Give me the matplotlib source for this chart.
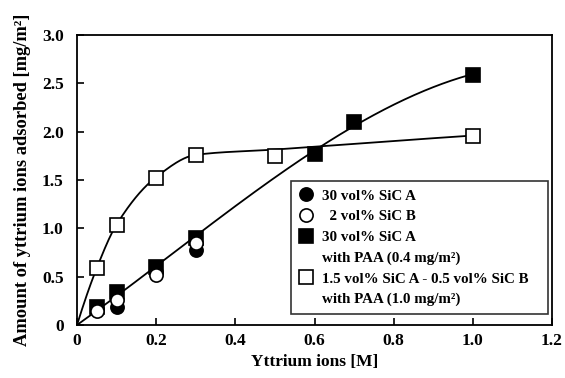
import numpy as np
import matplotlib
matplotlib.use("Agg")
import matplotlib.pyplot as plt
from matplotlib.lines import Line2D

# Data
x_fc = [0.05, 0.1, 0.2, 0.3]
y_fc = [0.17, 0.19, 0.55, 0.78]          # 30 vol% SiC A
x_oc = [0.05, 0.1, 0.2, 0.3]
y_oc = [0.14, 0.26, 0.52, 0.85]          # 2 vol% SiC B
x_fs = [0.05, 0.1, 0.2, 0.3, 0.6, 0.7, 1.0]
y_fs = [0.19, 0.34, 0.60, 0.90, 1.77, 2.10, 2.59]   # 30 vol% SiC A with PAA
x_os = [0.05, 0.1, 0.2, 0.3, 0.5, 1.0]
y_os = [0.59, 1.03, 1.52, 1.76, 1.75, 1.96]         # 1.5A-0.5B with PAA

x_os_curve = [0.0, 0.05, 0.1, 0.2, 0.3, 0.5, 0.7, 1.0]
y_os_curve = [0.0, 0.59, 1.04, 1.53, 1.76, 1.815, 1.875, 1.96]

labels = ["30 vol% SiC A", "  2 vol% SiC B",
          "30 vol% SiC A", "with PAA (0.4 mg/m²)",
          "1.5 vol% SiC A - 0.5 vol% SiC B   ", "with PAA (1.0 mg/m²)"]
xticks = [0, 0.2, 0.4, 0.6, 0.8, 1.0, 1.2]
xticklabels = ["0", "0.2", "0.4", "0.6", "0.8", "1.0", "1.2"]
yticks = [0, 0.5, 1.0, 1.5, 2.0, 2.5, 3.0]
yticklabels = ["0", "0.5", "1.0", "1.5", "2.0", "2.5", "3.0"]

plt.rcParams['font.family'] = ['Liberation Serif', 'DejaVu Serif']
plt.rcParams['font.weight'] = 'bold'


def pchip(xk, yk, xq):
    xk = np.asarray(xk, float); yk = np.asarray(yk, float)
    h = np.diff(xk); d = np.diff(yk) / h
    n = len(xk)
    m = np.zeros(n)
    for k in range(1, n - 1):
        if d[k-1] * d[k] > 0:
            w1 = 2*h[k] + h[k-1]; w2 = h[k] + 2*h[k-1]
            m[k] = (w1 + w2) / (w1/d[k-1] + w2/d[k])
    m[0] = ((2*h[0] + h[1])*d[0] - h[0]*d[1]) / (h[0] + h[1])
    if np.sign(m[0]) != np.sign(d[0]):
        m[0] = 0
    m[-1] = ((2*h[-1] + h[-2])*d[-1] - h[-1]*d[-2]) / (h[-1] + h[-2])
    if np.sign(m[-1]) != np.sign(d[-1]):
        m[-1] = 0
    idx = np.clip(np.searchsorted(xk, xq) - 1, 0, n - 2)
    t = (xq - xk[idx]) / h[idx]
    h00 = 2*t**3 - 3*t**2 + 1; h10 = t**3 - 2*t**2 + t
    h01 = -2*t**3 + 3*t**2; h11 = t**3 - t**2
    return h00*yk[idx] + h10*h[idx]*m[idx] + h01*yk[idx+1] + h11*h[idx]*m[idx+1]


fig = plt.figure(figsize=(5.65, 3.78), dpi=100)
ax = fig.add_axes([0.1363, 0.1402, 0.977 - 0.1363, 0.9074 - 0.1402])

xx = np.linspace(0, 1.0, 400)
# Trend line for filled squares: cubic least-squares fit through origin
xf = np.array(x_fs); yf = np.array(y_fs)
A = np.vstack([xf, xf**2, xf**3]).T
coef, *_ = np.linalg.lstsq(A, yf, rcond=None)
ax.plot(xx, coef[0]*xx + coef[1]*xx**2 + coef[2]*xx**3, color='black', lw=1.3, zorder=1)

# Guide line for open squares
ax.plot(xx, pchip(x_os_curve, y_os_curve, xx), color='black', lw=1.3, zorder=1)

ms = 9.5
h1, = ax.plot(x_fc, y_fc, 'o', ms=ms, mfc='black', mec='black', mew=1.2, zorder=2)
h3, = ax.plot(x_fs, y_fs, 's', ms=ms, mfc='black', mec='black', mew=1.2, zorder=2)
h2, = ax.plot(x_oc, y_oc, 'o', ms=ms, mfc='white', mec='black', mew=1.2, zorder=3)
h4, = ax.plot(x_os, y_os, 's', ms=ms, mfc='white', mec='black', mew=1.2, zorder=3)
blank = Line2D([], [], linestyle='none', marker='none')

ax.set_xlim(0, 1.2)
ax.set_ylim(0, 3.0)
ax.set_xticks(xticks)
ax.set_xticklabels(xticklabels)
ax.set_yticks(yticks)
ax.set_yticklabels(yticklabels)
ax.tick_params(direction='in', length=5, width=1.2, labelsize=12.5)
ax.tick_params(axis='x', pad=6)
ax.tick_params(axis='y', pad=9.5)
for s in ax.spines.values():
    s.set_linewidth(1.3)
ax.set_xlabel("Yttrium ions [M]", fontsize=12.5, fontweight='bold', labelpad=3)
ax.set_ylabel("Amount of yttrium ions adsorbed [mg/m²]", fontsize=13.3,
              fontweight='bold', labelpad=8)

leg = ax.legend([h1, h2, h3, blank, h4, blank], labels, loc='lower right',
                bbox_to_anchor=(0.9916, 0.037), prop={'size': 10.8, 'weight': 'bold'},
                frameon=True, fancybox=False, edgecolor='black',
                handlelength=1.0, handletextpad=0.6, labelspacing=0.48,
                borderpad=0.52, borderaxespad=0.0, markerscale=1.0)
leg.get_frame().set_linewidth(1.2)

fig.savefig("out.png", dpi=100)
